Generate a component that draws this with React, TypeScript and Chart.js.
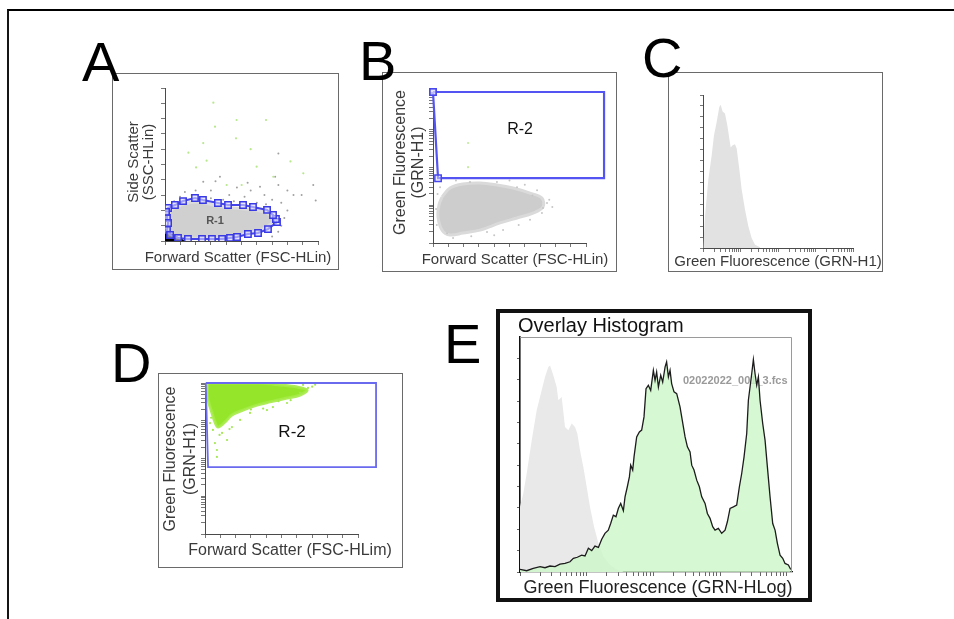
import React, { useEffect, useRef } from "react";
import { Chart, registerables } from "chart.js";

Chart.register(...registerables);

const SANS = '"Liberation Sans", Arial, Helvetica, sans-serif';
const font = (size: number, weight = "normal") => `${weight} ${size}px ${SANS}`;

type Pt = [number, number];

// ---------- tick positions ----------
const LIN_TICKS = [0, 100, 200, 300, 400, 500, 600, 700, 800, 900, 1000];
const LOG_TICKS = [
  1, 2, 3, 4, 5, 6, 7, 8, 9,
  10, 20, 30, 40, 50, 60, 70, 80, 90,
  100, 200, 300, 400, 500, 600, 700, 800, 900,
  1000, 2000, 3000, 4000, 5000, 6000, 7000, 8000, 9000, 10000,
];
const C_Y_TICKS = [0, 10, 20, 30, 40, 50, 60, 70, 80, 90, 100, 110, 120, 130, 140];
const E_Y_TICKS = [0, 10, 20, 30, 40, 50, 60, 70, 80, 90, 100];

// ---------- Panel A : SSC-HLin vs FSC-HLin ----------
const A_GATE_R1: Pt[] = [
  [7, 190], [13, 150], [20, 118], [13, 72], [33, 39], [85, 20], [150, 13], [242, 13],
  [307, 13], [373, 13], [425, 20], [471, 26], [542, 46], [608, 52], [673, 78], [732, 124],
  [725, 144], [706, 170], [667, 203], [575, 222], [510, 235], [412, 235], [346, 248],
  [248, 268], [196, 281], [118, 261], [65, 235], [20, 216],
];
const A_CLOUD: Pt[] = [
  [25, 185], [28, 130], [30, 70], [55, 30], [120, 20], [250, 18], [380, 20], [460, 32],
  [540, 52], [620, 68], [690, 110], [705, 145], [660, 185], [570, 205], [450, 215],
  [340, 230], [250, 250], [190, 255], [120, 240], [60, 215],
];
const A_CORE: Pt[] = [[0, 0], [125, 0], [105, 15], [70, 30], [35, 50], [10, 70], [0, 75]];
const A_GRAY_DOTS: Pt[] = [
  [250, 388], [359, 420], [621, 355], [741, 366], [893, 301], [969, 366], [985, 264],
  [840, 301], [741, 572], [174, 301], [98, 290], [300, 330], [420, 300], [470, 350],
  [520, 290], [560, 330], [650, 300], [700, 270], [760, 250], [800, 200], [780, 150],
  [760, 100], [740, 60], [700, 30], [130, 320], [60, 260], [380, 270], [450, 260],
  [600, 250], [660, 240], [300, 280], [200, 330], [330, 390], [540, 380], [800, 330],
  [720, 420],
];
const A_GREEN_DOTS: Pt[] = [
  [316, 904], [468, 791], [660, 791], [327, 747], [464, 671], [153, 577], [203, 481],
  [272, 525], [599, 486], [904, 442], [501, 366], [403, 366], [708, 420], [250, 640],
  [560, 600], [820, 520],
];

// ---------- Panel B : GRN-H1 (log) vs FSC-HLin ----------
const B_GATE_R2: Pt[] = [[0, 10000], [1118, 10000], [1118, 52], [33, 52]];
const B_CLOUD: Pt[] = [
  [59, 16.6], [111, 28.6], [196, 36.5], [307, 38.9], [418, 34.4], [523, 28.6], [634, 21],
  [712, 15.5], [719, 9], [654, 6.2], [549, 4.6], [438, 3.4], [307, 2.2], [196, 1.84],
  [111, 1.63], [59, 2.2], [33, 4.9], [39, 10.2],
];
const B_GRAY_DOTS: Pt[] = [
  [719, 8.5], [745, 11.5], [712, 6.2], [634, 4.1], [458, 2.2], [92, 1.8], [131, 1.36],
  [46, 30], [242, 41], [418, 41], [549, 30], [680, 25], [353, 1.95], [760, 14], [600, 35],
  [150, 45], [500, 45], [30, 20], [20, 8], [25, 3], [780, 9], [650, 18], [560, 3],
  [400, 1.6], [250, 1.5],
];
const B_GREEN_DOTS: Pt[] = [[229, 445], [229, 102]];

// ---------- Panel C : GRN-H1 histogram ----------
const C_HIST: Pt[] = [
  [1.02, 0], [1.13, 29], [1.39, 63], [1.7, 84.5], [1.96, 103], [2.31, 115], [2.72, 129],
  [2.96, 131], [3.34, 125], [3.86, 123], [4.46, 112], [5.04, 100], [5.47, 92], [6.18, 94],
  [7.13, 95], [7.91, 91], [9.31, 72], [10.7, 54], [13.2, 35], [16.2, 20], [19.9, 9],
  [24.4, 3], [33.1, 0.6],
];

// ---------- Panel D : GRN-H1 (log) vs FSC-HLim ----------
const D_GATE_R2: Pt[] = [[5, 10000], [1118, 10000], [1118, 59], [20, 59]];
const D_CLOUD: Pt[] = [
  [20, 10000], [183, 10000], [359, 10000], [490, 8900], [601, 7800], [667, 6500],
  [621, 4800], [536, 4000], [425, 3160], [340, 2600], [248, 1920], [176, 1420],
  [131, 930], [85, 680], [65, 930], [46, 1610], [26, 2950], [13, 5450],
];
const D_DOTS: Pt[] = [
  [78, 110], [144, 309], [111, 477], [52, 570], [176, 680], [229, 1050], [294, 1610],
  [444, 2300], [536, 2950], [621, 5450], [673, 7400], [641, 8900], [405, 1920], [33, 870],
  [65, 257], [78, 168], [700, 8000], [720, 9000], [560, 3500], [380, 2100], [160, 600],
  [95, 420], [40, 1200], [300, 2000], [480, 3300],
];

// ---------- Panel E : overlay histogram GRN-HLog ----------
const E_GREEN: Pt[] = [
  [1.0, 1.2], [1.26, 0.6], [1.58, 1.7], [2.0, 2.5], [2.37, 2.0], [2.82, 2.8], [3.35, 2.5],
  [3.98, 3.7], [4.73, 4.0], [5.62, 4.8], [6.31, 6.4], [7.24, 6.9], [8.41, 7.9], [9.44, 7.5],
  [10.6, 11.1], [11.9, 10.0], [13.3, 12.1], [15.0, 11.5], [16.8, 15.3], [18.8, 18.1],
  [21.1, 19.6], [22.9, 22.7], [25.1, 26.6], [27.5, 25.9], [29.9, 29.8], [32.4, 32.1],
  [35.5, 28.7], [37.6, 35.2], [40.7, 39.9], [43.7, 44.5], [45.7, 50.0], [49.0, 47.7],
  [51.3, 53.9], [56.2, 63.2], [61.7, 65.6], [66.8, 66.4], [72.4, 72.6], [77.6, 85.8],
  [84.1, 87.4], [91.2, 85.0], [100, 94.4], [106, 89.7], [112, 93.6], [119, 86.6],
  [129, 92.1], [138, 88.9], [150, 96.0], [158, 98.3], [168, 91.3], [178, 94.4],
  [188, 88.2], [204, 84.3], [224, 83.5], [251, 77.3], [266, 72.6], [299, 63.2],
  [324, 58.6], [355, 56.2], [376, 50.0], [407, 47.7], [447, 43.0], [490, 39.9],
  [531, 35.2], [596, 32.1], [646, 27.4], [708, 25.1], [776, 21.2], [841, 19.6],
  [944, 20.4], [1059, 18.1], [1189, 19.6], [1288, 23.5], [1413, 29.8], [1585, 30.5],
  [1778, 31.3], [1950, 39.9], [2113, 46.1], [2291, 53.9], [2512, 64.8], [2661, 80.4],
  [2818, 86.6], [2985, 92.8], [3162, 99.4], [3350, 92.8], [3548, 87.4], [3758, 91.3],
  [3981, 80.4], [4365, 69.5], [4732, 61.7], [5129, 49.2], [5623, 35.2], [6166, 22.7],
  [6683, 19.6], [7244, 13.4], [7943, 7.9], [8710, 6.4], [9441, 4.0], [10593, 3.3],
  [11482, 1.2],
];
const E_GRAY: Pt[] = [
  [1.0, 30.5], [1.12, 36.8], [1.26, 46.1], [1.5, 61.7], [1.78, 75.7], [2.11, 85.0],
  [2.37, 91.3], [2.66, 96.0], [2.82, 96.7], [3.16, 92.1], [3.55, 86.6], [3.76, 80.4],
  [4.22, 81.9], [4.73, 67.9], [5.31, 66.4], [5.96, 69.5], [6.68, 67.9], [7.24, 64.8],
  [7.94, 57.0], [8.91, 49.2], [10.0, 39.9], [11.2, 30.5], [12.9, 21.2], [15.0, 13.4],
  [17.8, 7.2], [22.4, 3.3], [28.2, 1.2], [35.5, 0.2],
];

// ---------- helpers ----------
const pts = (a: Pt[]) => a.map(([x, y]) => ({ x, y }));
const closed = (a: Pt[]) => pts([...a, a[0]]);

function axis(type: string, min: number, max: number, ticks: number[], sizeKey: "width" | "height", size: number, o: any = {}) {
  return {
    type,
    min,
    max,
    bounds: "data",
    afterBuildTicks: (s: any) => {
      s.ticks = ticks.map((v) => ({ value: v }));
    },
    afterFit: (s: any) => {
      s[sizeKey] = size;
    },
    ticks: { display: false },
    title: { display: false },
    grid: {
      display: true,
      drawOnChartArea: false,
      drawTicks: true,
      tickLength: o.tickLength ?? 4,
      color: o.tickColor ?? "#777",
      lineWidth: 1,
    },
    border: { display: true, color: o.axisColor ?? "#4a4a4a", width: o.axisWidth ?? 1 },
  };
}

type TextItem = {
  text: string; x: number; y: number; size: number; weight?: string; color?: string;
  align?: CanvasTextAlign; baseline?: CanvasTextBaseline; rotate?: boolean; data?: boolean; under?: boolean;
};

function textPlugin(items: TextItem[]) {
  const draw = (chart: any, under: boolean) => {
    const ctx = chart.ctx;
    for (const it of items) {
      if (!!it.under !== under) continue;
      let x = it.x;
      let y = it.y;
      if (it.data) {
        x = chart.scales.x.getPixelForValue(it.x);
        y = chart.scales.y.getPixelForValue(it.y);
      }
      ctx.save();
      ctx.font = font(it.size, it.weight);
      ctx.fillStyle = it.color ?? "#333";
      ctx.textAlign = it.align ?? "center";
      ctx.textBaseline = it.baseline ?? "alphabetic";
      ctx.translate(x, y);
      if (it.rotate) ctx.rotate(-Math.PI / 2);
      ctx.fillText(it.text, 0, 0);
      ctx.restore();
    }
  };
  return {
    id: "panelTexts",
    beforeDatasetsDraw: (c: any) => draw(c, true),
    afterDraw: (c: any) => draw(c, false),
  };
}

const plotFrame = {
  id: "plotFrame",
  afterDraw(chart: any) {
    const { ctx, chartArea: a } = chart;
    ctx.save();
    ctx.strokeStyle = "#9a9a9a";
    ctx.lineWidth = 1;
    ctx.beginPath();
    ctx.moveTo(a.left, Math.round(a.top) + 0.5);
    ctx.lineTo(Math.round(a.right) - 0.5, Math.round(a.top) + 0.5);
    ctx.lineTo(Math.round(a.right) - 0.5, a.bottom);
    ctx.stroke();
    ctx.restore();
  },
};

function baseOptions(pad: { top: number; right: number; left?: number }, scales: any) {
  return {
    animation: false,
    responsive: false,
    maintainAspectRatio: false,
    devicePixelRatio: 1,
    events: [],
    layout: { padding: { left: pad.left ?? 0, top: pad.top, right: pad.right, bottom: 0 } },
    plugins: { legend: { display: false }, tooltip: { enabled: false }, title: { display: false } },
    scales,
  };
}

const dots = (data: Pt[], color: string, r = 1.1) => ({
  type: "scatter",
  data: pts(data),
  pointRadius: r,
  pointBackgroundColor: color,
  pointBorderWidth: 0,
  pointBorderColor: color,
});

const blob = (data: Pt[], fillColor: string, edgeColor: string, tension = 0.35, edge = 1.5) => ({
  type: "line",
  data: closed(data),
  borderColor: edgeColor,
  backgroundColor: fillColor,
  borderWidth: edge,
  fill: "shape",
  tension,
  pointRadius: 0,
});

// ---------- panel configs ----------
const configA = () => ({
  type: "scatter",
  data: {
    datasets: [
      {
        type: "line",
        data: closed(A_GATE_R1),
        borderColor: "#4646e8",
        borderWidth: 2,
        fill: false,
        tension: 0,
        pointStyle: "rect",
        pointRadius: 4.5,
        pointBorderColor: "#3a3ae4",
        pointBorderWidth: 1.5,
        pointBackgroundColor: "rgba(215,215,255,0.6)",
      },
      dots(A_GREEN_DOTS, "#b8e88c"),
      dots(A_GRAY_DOTS, "#a0a0a0", 1),
      blob(A_CORE, "#000000", "#000000", 0.2, 1),
      blob(A_CLOUD, "#d0d0d0", "#dcdcdc", 0.35, 3),
    ],
  },
  options: baseOptions({ top: 14, right: 20 }, {
    x: axis("linear", 0, 1000, LIN_TICKS, "height", 28),
    y: axis("linear", 0, 1000, LIN_TICKS, "width", 52),
  }),
  plugins: [
    textPlugin([
      { text: "R-1", x: 327, y: 131, data: true, size: 11, weight: "bold", color: "#555", baseline: "middle" },
      { text: "Forward Scatter (FSC-HLin)", x: 125, y: 188, size: 15, color: "#3a3a3a" },
      { text: "Side Scatter", x: 25, y: 88, size: 15, color: "#3a3a3a", rotate: true },
      { text: "(SSC-HLin)", x: 40, y: 88, size: 15, color: "#3a3a3a", rotate: true },
    ]),
  ],
});

const configB = () => ({
  type: "scatter",
  data: {
    datasets: [
      {
        type: "line",
        data: closed(B_GATE_R2),
        borderColor: "#5454f2",
        borderWidth: 2.2,
        fill: false,
        tension: 0,
        clip: false,
        pointStyle: "rect",
        pointRadius: 4.5,
        pointBorderColor: "#4848ee",
        pointBorderWidth: 1.5,
        pointBackgroundColor: "rgba(220,220,255,0.5)",
      },
      dots(B_GREEN_DOTS, "#c5eca0"),
      dots(B_GRAY_DOTS, "#c6c6c6", 1),
      blob(B_CLOUD, "#cdcdcd", "#dadada", 0.35, 3),
    ],
  },
  options: baseOptions({ top: 19, right: 30 }, {
    x: axis("linear", 0, 1000, LIN_TICKS, "height", 28),
    y: axis("logarithmic", 1, 10000, LOG_TICKS, "width", 50),
  }),
  plugins: [
    textPlugin([
      { text: "R-2", x: 569, y: 980, data: true, size: 16, color: "#111", baseline: "middle" },
      { text: "Forward Scatter (FSC-HLin)", x: 132, y: 191, size: 15, color: "#3a3a3a" },
      { text: "Green Fluorescence", x: 22, y: 89.5, size: 16, color: "#3a3a3a", rotate: true },
      { text: "(GRN-H1)", x: 40, y: 89.5, size: 16, color: "#3a3a3a", rotate: true },
    ]),
  ],
});

const configC = () => ({
  type: "scatter",
  data: {
    datasets: [
      {
        type: "line",
        data: pts(C_HIST),
        borderWidth: 0,
        borderColor: "rgba(0,0,0,0)",
        backgroundColor: "#e2e2e2",
        fill: "origin",
        tension: 0,
        pointRadius: 0,
      },
    ],
  },
  options: baseOptions({ top: 22, right: 29 }, {
    x: axis("logarithmic", 1, 10000, LOG_TICKS, "height", 23),
    y: axis("linear", 0, 140, C_Y_TICKS, "width", 34, { tickLength: 3 }),
  }),
  plugins: [
    textPlugin([
      { text: "Green Fluorescence (GRN-H1)", x: 109, y: 193, size: 15, color: "#3a3a3a" },
    ]),
  ],
});

const configD = () => ({
  type: "scatter",
  data: {
    datasets: [
      {
        type: "line",
        data: closed(D_GATE_R2),
        borderColor: "#6a6aee",
        borderWidth: 1.8,
        fill: false,
        tension: 0,
        clip: false,
        pointRadius: 0,
      },
      dots(D_DOTS, "#a3e852", 1.1),
      blob(D_CLOUD, "rgba(140,228,24,0.92)", "rgba(165,235,70,0.9)", 0.35, 3),
    ],
  },
  options: baseOptions({ top: 9, right: 44 }, {
    x: axis("linear", 0, 1000, LIN_TICKS, "height", 33),
    y: axis("logarithmic", 1, 10000, LOG_TICKS, "width", 46),
  }),
  plugins: [
    textPlugin([
      { text: "R-2", x: 569, y: 500, data: true, size: 17, color: "#111", baseline: "middle" },
      { text: "Forward Scatter (FSC-HLim)", x: 131, y: 181, size: 16, color: "#3a3a3a" },
      { text: "Green Fluorescence", x: 16, y: 85, size: 16, color: "#3a3a3a", rotate: true },
      { text: "(GRN-H1)", x: 36, y: 85, size: 16, color: "#3a3a3a", rotate: true },
    ]),
  ],
});

const configE = () => ({
  type: "scatter",
  data: {
    datasets: [
      {
        type: "line",
        data: pts(E_GREEN),
        borderColor: "#1c1c1c",
        borderWidth: 1.3,
        backgroundColor: "rgba(205,246,200,0.82)",
        fill: "origin",
        tension: 0,
        pointRadius: 0,
      },
      {
        type: "line",
        data: pts(E_GRAY),
        borderWidth: 0,
        borderColor: "rgba(0,0,0,0)",
        backgroundColor: "#e9e9e9",
        fill: "origin",
        tension: 0,
        pointRadius: 0,
      },
    ],
  },
  options: baseOptions({ top: 24, right: 16 }, {
    x: axis("logarithmic", 1, 12000, LOG_TICKS, "height", 26, { axisColor: "#111", axisWidth: 1.3, tickColor: "#666" }),
    y: axis("linear", 0, 110, E_Y_TICKS, "width", 20, { axisColor: "#111", axisWidth: 1.6, tickLength: 3, tickColor: "#666" }),
  }),
  plugins: [
    plotFrame,
    textPlugin([
      { text: "02022022_001_3.fcs", x: 183, y: 71, size: 11, weight: "bold", color: "#9a9a9a", align: "left", under: true },
      { text: "Overlay Histogram", x: 18, y: 19, size: 20, color: "#111", align: "left" },
      { text: "Green Fluorescence (GRN-HLog)", x: 158, y: 280, size: 18, color: "#222" },
    ]),
  ],
});

// ---------- layout ----------
type PanelSpec = { key: string; box: { x: number; y: number; w: number; h: number; bw: number }; config: () => any };

const PANELS: PanelSpec[] = [
  { key: "A", box: { x: 112, y: 73, w: 227, h: 197, bw: 1 }, config: configA },
  { key: "B", box: { x: 382, y: 72, w: 235, h: 200, bw: 1 }, config: configB },
  { key: "C", box: { x: 668, y: 72, w: 215, h: 200, bw: 1 }, config: configC },
  { key: "D", box: { x: 158, y: 373, w: 245, h: 195, bw: 1 }, config: configD },
  { key: "E", box: { x: 496, y: 309, w: 316, h: 293, bw: 4 }, config: configE },
];

const LETTERS = [
  { t: "A", x: 82, base: 81 },
  { t: "B", x: 359, base: 80 },
  { t: "C", x: 642, base: 77 },
  { t: "D", x: 111, base: 382 },
  { t: "E", x: 444, base: 363 },
];

function Panel({ spec }: { spec: PanelSpec }) {
  const ref = useRef<HTMLCanvasElement | null>(null);
  const { x, y, w, h, bw } = spec.box;
  const cw = w - 2 * bw;
  const ch = h - 2 * bw;
  useEffect(() => {
    const chart = new Chart(ref.current as HTMLCanvasElement, spec.config());
    return () => chart.destroy();
  }, []);
  return (
    <div
      style={{
        position: "absolute",
        left: x,
        top: y,
        width: w,
        height: h,
        boxSizing: "border-box",
        border: `${bw}px solid ${bw > 1 ? "#111" : "#6a6a6a"}`,
        background: "#fff",
      }}
    >
      <canvas ref={ref} width={cw} height={ch} style={{ display: "block", width: cw, height: ch }} />
    </div>
  );
}

export default function App() {
  return (
    <div
      style={{
        position: "absolute",
        left: 0,
        top: 0,
        width: 954,
        height: 619,
        overflow: "hidden",
        background: "#fff",
        fontFamily: SANS,
      }}
    >
      <div
        style={{
          position: "absolute",
          left: 7,
          top: 9,
          width: 1000,
          height: 700,
          borderTop: "2px solid #000",
          borderLeft: "2px solid #151515",
        }}
      />
      {PANELS.map((p) => (
        <Panel key={p.key} spec={p} />
      ))}
      {LETTERS.map((l) => (
        <div
          key={l.t}
          style={{
            position: "absolute",
            left: l.x,
            top: l.base - 47,
            fontSize: 56,
            lineHeight: "56px",
            fontFamily: SANS,
            color: "#000",
          }}
        >
          {l.t}
        </div>
      ))}
    </div>
  );
}
